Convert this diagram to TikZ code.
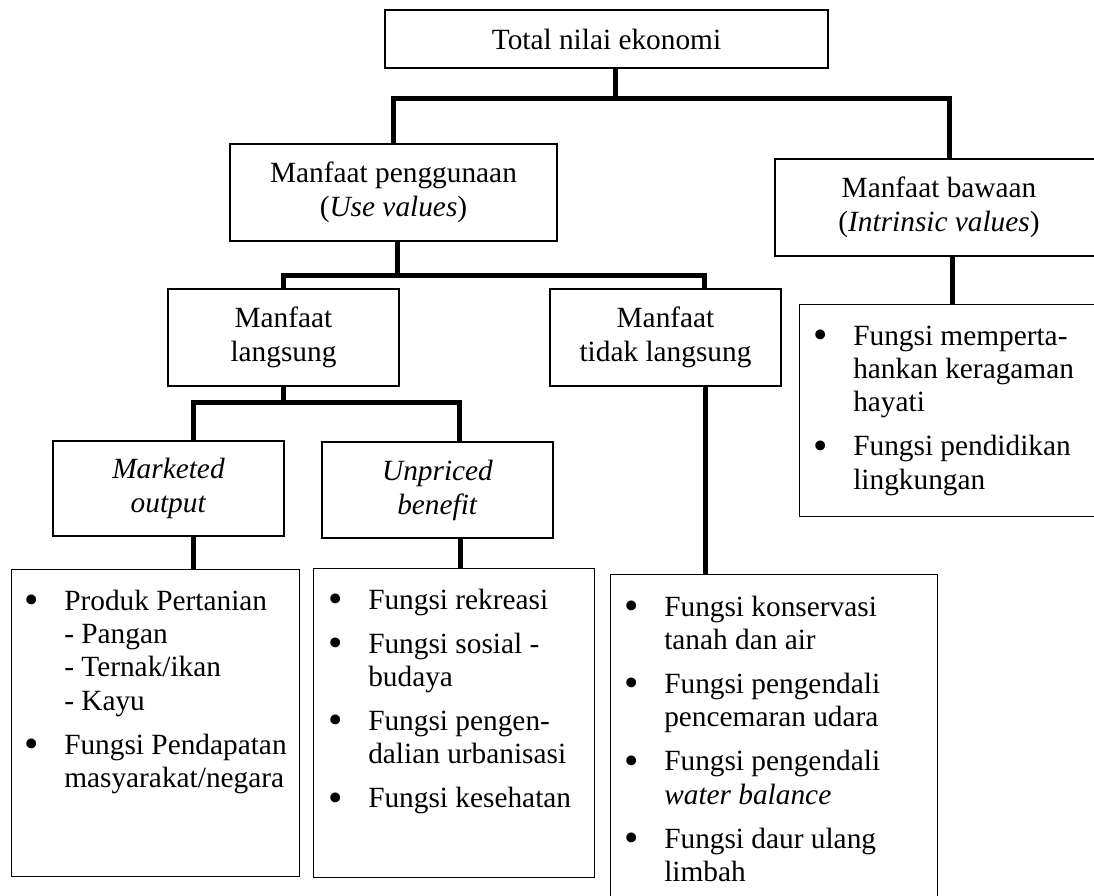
\documentclass[tikz,border=0pt]{standalone}
\usepackage{fontspec}
\setmainfont{Liberation Serif}
\newcommand{\boxfont}{\fontsize{22}{25.5}\selectfont}
\newcommand{\listfont}{\fontsize{22}{25}\selectfont}
\newcommand{\bdot}{\raisebox{-0.12em}{\scalebox{1.4}{\textbullet}}}

\begin{document}
\begin{tikzpicture}[x=0.75pt, y=-0.75pt,
    box/.style={draw, line width=1.1pt, inner sep=0pt, align=center, font=\boxfont},
    listbox/.style={draw, line width=1.1pt, inner sep=0pt, anchor=north west},
    listtext/.style={anchor=base west, inner sep=0pt, font=\listfont},
    conn/.style={line width=3.75pt}]
  \useasboundingbox (0,0) rectangle (1094,895);

  % ======= Levels 1-2 =======
  \node[box, minimum width=332.25pt, minimum height=43.5pt] (total) at (606.5,39) {Total nilai ekonomi};
  \node[box, minimum width=245.25pt, minimum height=72.75pt] (pengg) at (393.5,192.5)
    {Manfaat penggunaan\\(\textit{Use values})};
  \node[box, minimum width=246pt, minimum height=72.75pt] (bawaan) at (939,207.5)
    {Manfaat bawaan\\(\textit{Intrinsic values})};

  % ======= Level 3 =======
  \node[box, minimum width=173.25pt, minimum height=72.75pt] (lang) at (283.5,337.5) {Manfaat\\langsung};
  \node[box, minimum width=173.25pt, minimum height=72.75pt] (tidak) at (665.5,337.5) {Manfaat\\tidak langsung};

  % ======= Level 4 =======
  \node[box, minimum width=173.25pt, minimum height=71.25pt] (market) at (168.5,488.5)
    {\textit{Marketed}\\\textit{output}};
  \node[box, minimum width=173.25pt, minimum height=72pt] (unpriced) at (437.5,490)
    {\textit{Unpriced}\\\textit{benefit}};

  % ======= List boxes =======
  \node[listbox, minimum width=216pt, minimum height=230.25pt] (produk) at (11,569) {};
  \node[listbox, minimum width=210.75pt, minimum height=231.75pt] (rekreasi) at (313,568) {};
  \node[listbox, minimum width=245.25pt, minimum height=255pt] (konserv) at (610,574) {};
  \node[listbox, minimum width=228pt, minimum height=159pt] (hayati) at (799,304) {};

  \node[listtext] (produktext) at (24,610) {\begin{tabular}[t]{@{}p{30pt}@{}l@{}}
    \bdot & Produk Pertanian\\
    & - Pangan\\
    & - Ternak/ikan\\
    & - Kayu\\[8pt]
    \bdot & Fungsi Pendapatan\\
    & masyarakat/negara
  \end{tabular}};
  \node[listtext] (rekreasitext) at (328,609) {\begin{tabular}[t]{@{}p{30pt}@{}l@{}}
    \bdot & Fungsi rekreasi\\[8pt]
    \bdot & Fungsi sosial -\\
    & budaya\\[8pt]
    \bdot & Fungsi pengen-\\
    & dalian urbanisasi\\[8pt]
    \bdot & Fungsi kesehatan
  \end{tabular}};
  \node[listtext] (konservtext) at (624,616) {\begin{tabular}[t]{@{}p{30pt}@{}l@{}}
    \bdot & Fungsi konservasi\\
    & tanah dan air\\[8pt]
    \bdot & Fungsi pengendali\\
    & pencemaran udara\\[8pt]
    \bdot & Fungsi pengendali\\
    & \textit{water balance}\\[8pt]
    \bdot & Fungsi daur ulang\\
    & limbah
  \end{tabular}};
  \node[listtext] (hayatitext) at (813,345) {\begin{tabular}[t]{@{}p{30pt}@{}l@{}}
    \bdot & Fungsi memperta-\\
    & hankan keragaman\\
    & hayati\\[8pt]
    \bdot & Fungsi pendidikan\\
    & lingkungan
  \end{tabular}};

  % ======= Connectors =======
  \coordinate (j1) at (615,99);
  \coordinate (j2) at (397,275);
  \coordinate (j3) at (284,402);
  \coordinate (bawaandrop) at ([xshift=7.5pt]bawaan.north);
  \coordinate (tidakdrop) at ([xshift=28.875pt]tidak.north);
  \coordinate (marketdrop) at ([xshift=18.375pt]market.north);
  \coordinate (unpriceddrop) at ([xshift=16.125pt]unpriced.north);
  \coordinate (marketstem) at ([xshift=18.375pt]market.south);
  \coordinate (unpricedstem) at ([xshift=16.875pt]unpriced.south);
  \coordinate (tidakstem) at ([xshift=29.625pt]tidak.south);
  \coordinate (bawaanstem) at ([xshift=9.75pt]bawaan.south);

  \draw[conn] (total.south -| j1) -- (j1);
  \draw[conn] (pengg.north) |- (j1) -| (bawaandrop);
  \draw[conn] (pengg.south -| j2) -- (j2);
  \draw[conn] (lang.north) |- (j2) -| (tidakdrop);
  \draw[conn] (lang.south) -- (lang.south |- j3);
  \draw[conn] (marketdrop) |- (j3) -| (unpriceddrop);

  \draw[conn] (marketstem) -- (marketstem |- produk.north);
  \draw[conn] (unpricedstem) -- (unpricedstem |- rekreasi.north);
  \draw[conn] (tidakstem) -- (tidakstem |- konserv.north);
  \draw[conn] (bawaanstem) -- (bawaanstem |- hayati.north);
\end{tikzpicture}
\end{document}
